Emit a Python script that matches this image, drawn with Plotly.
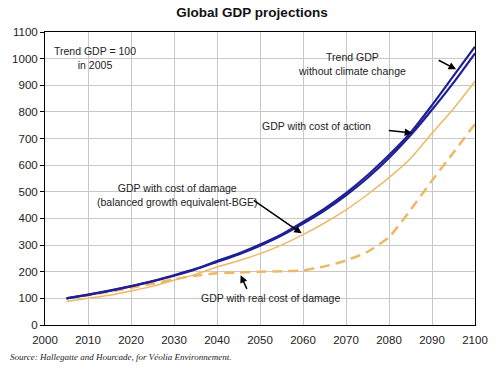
import plotly.graph_objects as go

years = [2005, 2010, 2015, 2020, 2025, 2030, 2035, 2040, 2045, 2050,
         2055, 2060, 2065, 2070, 2075, 2080, 2085, 2090, 2095, 2100]
trend_gdp = [100, 114, 129, 146, 165, 187, 211, 240, 268, 302,
             340, 387, 437, 495, 562, 638, 722, 825, 935, 1045]
gdp_cost_action = [100, 113, 128, 145, 164, 185, 209, 237, 265, 298,
                   336, 381, 430, 487, 552, 627, 712, 808, 910, 1020]
gdp_bge = [88, 100, 112, 128, 145, 168, 190, 218, 241, 268,
           300, 339, 383, 432, 490, 553, 625, 720, 812, 915]
gdp_real_damage = [100, 112, 125, 140, 155, 172, 185, 194, 197, 200,
                   202, 205, 220, 242, 275, 330, 432, 542, 648, 755]

x_ticks = [2000, 2010, 2020, 2030, 2040, 2050, 2060, 2070, 2080, 2090, 2100]
y_ticks = [0, 100, 200, 300, 400, 500, 600, 700, 800, 900, 1000, 1100]

BLUE = "#1f1f96"
ORANGE = "#eeb865"
FONT = "Liberation Sans, Arial, sans-serif"

fig = go.Figure()
fig.add_trace(go.Scatter(x=years, y=gdp_real_damage, mode="lines",
                         line=dict(color=ORANGE, width=2.5, dash="10px,6px",
                                   shape="spline", smoothing=0.6),
                         name="GDP with real cost of damage"))
fig.add_trace(go.Scatter(x=years, y=gdp_bge, mode="lines",
                         line=dict(color=ORANGE, width=1.5, shape="spline", smoothing=0.6),
                         name="GDP with cost of damage (BGE)"))
fig.add_trace(go.Scatter(x=years, y=gdp_cost_action, mode="lines",
                         line=dict(color=BLUE, width=2.2, shape="spline", smoothing=0.6),
                         name="GDP with cost of action"))
fig.add_trace(go.Scatter(x=years, y=trend_gdp, mode="lines",
                         line=dict(color=BLUE, width=2.2, shape="spline", smoothing=0.6),
                         name="Trend GDP without climate change"))

txt = dict(family=FONT, size=10.5, color="#222222")
annotations = [
    dict(x=2011.6, y=1001, text="Trend GDP = 100<br>in 2005", showarrow=False, font=txt),
    dict(x=2071.3, y=979, text="Trend GDP<br>without climate change", showarrow=False, font=txt),
    dict(x=2063.1, y=746, text="GDP with cost of action", showarrow=False, font=txt),
    dict(x=2030.8, y=487, text="GDP with cost of damage<br>(balanced growth equivalent-BGE)",
         showarrow=False, font=txt),
    dict(x=2052.5, y=100, text="GDP with real cost of damage", showarrow=False, font=txt),
]
arrows = [
    ((2091.2, 997), (2095.6, 960)),
    ((2079.6, 731), (2085.4, 721)),
    ((2048.2, 472), (2059.7, 344)),
    ((2047.1, 130), (2045.5, 187)),
]
for (tx, ty), (hx, hy) in arrows:
    annotations.append(dict(x=hx, y=hy, ax=tx, ay=ty, xref="x", yref="y",
                            axref="x", ayref="y", text="", showarrow=True,
                            arrowhead=2, arrowsize=1, arrowwidth=1.5,
                            arrowcolor="#000000"))
annotations.append(dict(x=-0.086, y=-0.11, xref="paper", yref="paper",
                        xanchor="left", yanchor="middle", showarrow=False,
                        text="<i>Source: Hallegatte and Hourcade, for Véolia Environnement.</i>",
                        font=dict(family="Liberation Serif, Times New Roman, serif",
                                  size=9, color="#222222")))

fig.update_layout(
    width=500, height=375,
    margin=dict(l=40, r=18, t=32, b=50),
    paper_bgcolor="white", plot_bgcolor="white",
    showlegend=False,
    title=dict(text="<b>Global GDP projections</b>", x=0.504, xanchor="center",
               y=1 - 12 / 375, yanchor="middle",
               font=dict(family=FONT, size=13.5, color="#111111")),
    annotations=annotations,
    font=dict(family=FONT, size=11.5, color="#222222"),
)
fig.update_xaxes(range=[2000, 2100], tickvals=x_ticks, showgrid=True,
                 gridcolor="#c8c8c8", gridwidth=1, showline=True,
                 linecolor="#000000", linewidth=1, mirror=True,
                 ticks="", zeroline=False, ticklabelstandoff=4)
fig.update_yaxes(range=[0, 1100], tickvals=y_ticks, showgrid=True,
                 gridcolor="#c8c8c8", gridwidth=1, showline=True,
                 linecolor="#000000", linewidth=1, mirror=True,
                 ticks="outside", ticklen=4, tickcolor="#000000",
                 zeroline=False)

fig.write_html("out.html", config={"displayModeBar": False},
               post_script="document.body.style.margin='0';document.body.style.overflow='hidden';")
